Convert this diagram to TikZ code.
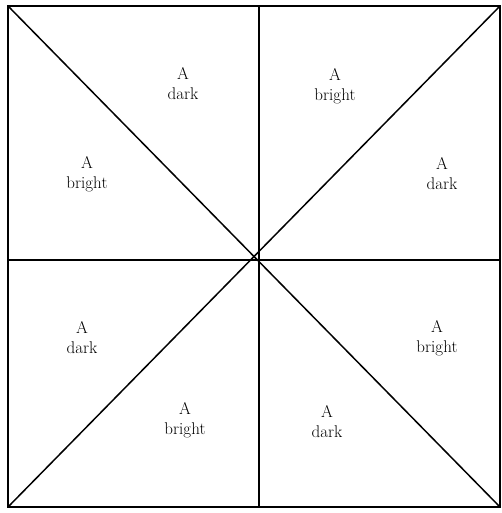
\documentclass[tikz,border=0pt]{standalone}
\usepackage{amssymb,amsmath}
\usepackage{tikz}

\begin{document}
\begin{tikzpicture}[x=1pt,y=-1pt]
\tikzset{lab/.style={align=center, font=\fontsize{17}{20}\selectfont}}
\useasboundingbox (0,0) rectangle (501,513);

\coordinate (tl) at (8,6);
\coordinate (tr) at (500,6);
\coordinate (bl) at (8,507);
\coordinate (br) at (500,507);
\coordinate (tm) at (259,6);
\coordinate (bm) at (259,507);
\coordinate (lm) at (8,260);
\coordinate (rm) at (500,260);
\coordinate (c) at (259,260);

%\draw[black] (0,0) rectangle (501,513);
\draw[black, line width=2pt] (tl) -- (tr) -- (br) -- (bl) -- cycle;
\draw[black, line width=1.5pt] (tm) -- (bm);
\draw[black, line width=1.5pt] (lm) -- (rm);
\draw[black, line width=1.5pt] (tl) -- (br);
\draw[black, line width=1.5pt] (bl) -- (tr);

\path (183,84) node[lab] (ul) {A\\dark};
\path (335,86) node[lab] (ur) {A\\bright};
\path (87,174) node[lab] (lu) {A\\bright};
\path (442,174) node[lab] (ru) {A\\dark};
\path (82,338) node[lab] (ld) {A\\dark};
\path (437,338) node[lab] (rd) {A\\bright};
\path (185,420) node[lab] (dl) {A\\bright};
\path (327,422) node[lab] (dr) {A\\dark};
\end{tikzpicture}
\end{document}
